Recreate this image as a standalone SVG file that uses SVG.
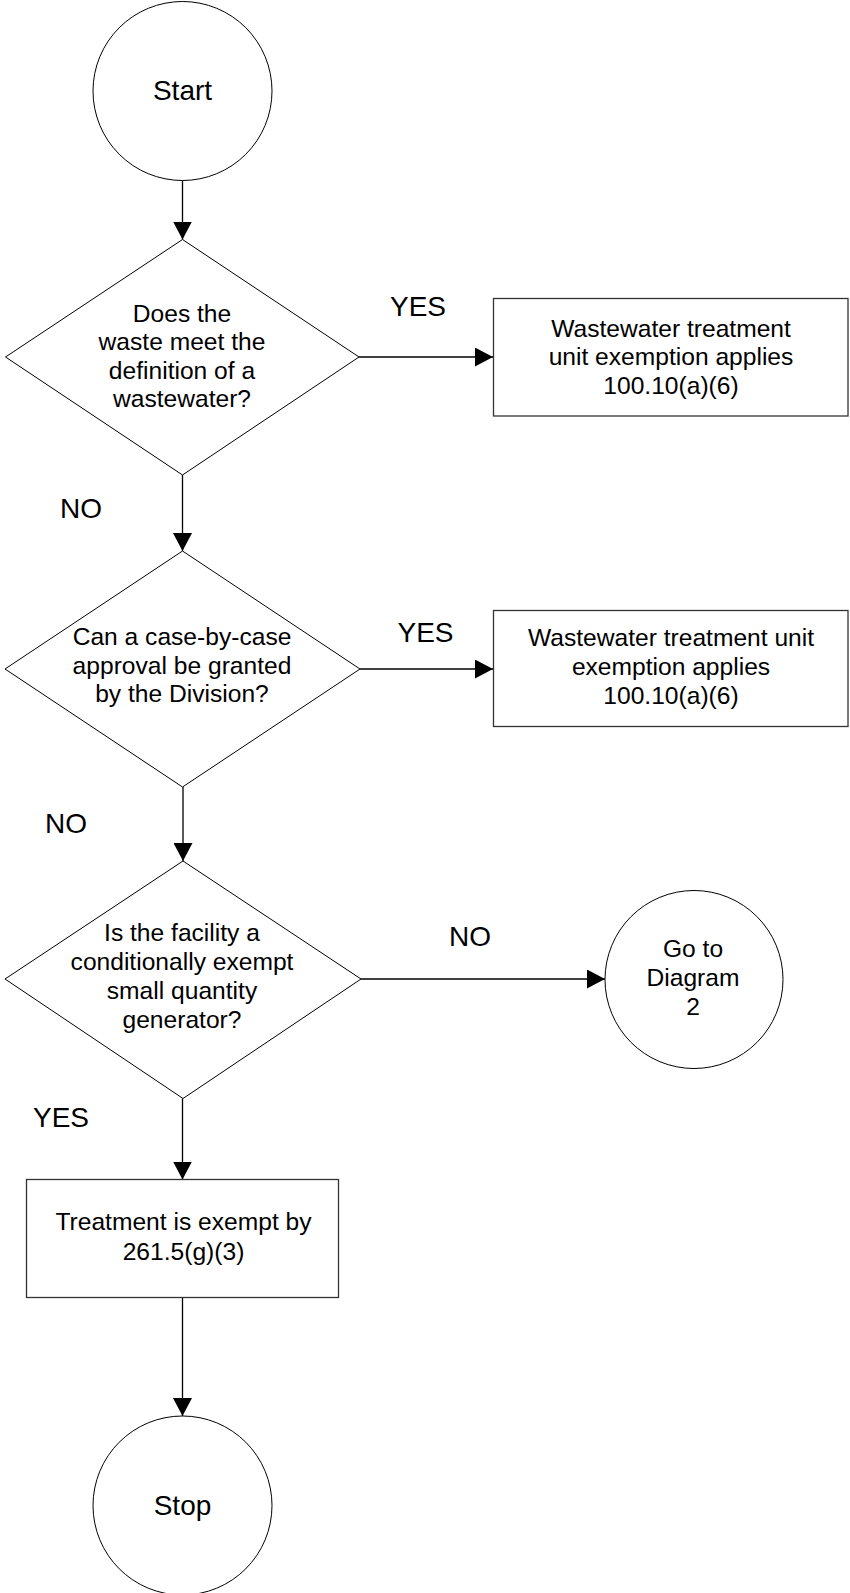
<svg xmlns="http://www.w3.org/2000/svg" width="850" height="1593" viewBox="0 0 850 1593">
<style>
.shape{fill:#fff;stroke:#000;stroke-width:1}
.box{fill:#fff;stroke:#333;stroke-width:1.3}
.conn{fill:none;stroke:#000;stroke-width:1.3}
text{font-family:"Liberation Sans",Arial,sans-serif;fill:#000;text-anchor:middle}
.t{font-size:24.6px}
.lbl{font-size:28px}
</style>
<defs>
<marker id="arr" markerUnits="userSpaceOnUse" markerWidth="18" markerHeight="19" refX="18" refY="9.5" orient="auto">
<path d="M0,0 L18,9.5 L0,19 Z" fill="#000"/>
</marker>
</defs>
<rect width="850" height="1593" fill="#fff"/>
<g id="connectors">
<line class="conn" x1="182.5" y1="180.5" x2="182.5" y2="239.5" marker-end="url(#arr)"/>
<line class="conn" x1="359" y1="357" x2="493" y2="357" marker-end="url(#arr)"/>
<line class="conn" x1="182.5" y1="475" x2="182.5" y2="551" marker-end="url(#arr)"/>
<line class="conn" x1="360" y1="669" x2="493" y2="669" marker-end="url(#arr)"/>
<line class="conn" x1="183" y1="787" x2="183" y2="861" marker-end="url(#arr)"/>
<line class="conn" x1="361" y1="979" x2="605" y2="979" marker-end="url(#arr)"/>
<line class="conn" x1="182.5" y1="1098.5" x2="182.5" y2="1179.5" marker-end="url(#arr)"/>
<line class="conn" x1="182.5" y1="1298" x2="182.5" y2="1416" marker-end="url(#arr)"/>
<text class="lbl" x="418" y="316">YES</text>
<text class="lbl" x="81" y="518">NO</text>
<text class="lbl" x="425.5" y="641.5">YES</text>
<text class="lbl" x="66" y="833">NO</text>
<text class="lbl" x="470" y="946">NO</text>
<text class="lbl" x="61" y="1127">YES</text>
</g>
<g id="start">
<circle class="shape" cx="182.5" cy="91" r="89.5"/>
<text class="lbl" x="182.5" y="100">Start</text>
</g>
<g id="decision1">
<polygon class="shape" points="182.5,239.5 359,357 182.5,475 5.5,357"/>
<text class="t" x="182" y="321.5">Does the</text>
<text class="t" x="182" y="350">waste meet the</text>
<text class="t" x="182" y="378.5">definition of a</text>
<text class="t" x="182" y="407">wastewater?</text>
</g>
<g id="exempt1">
<rect class="box" x="493.5" y="298.5" width="354.5" height="117.5"/>
<text class="t" x="671" y="336.5">Wastewater treatment</text>
<text class="t" x="671" y="365">unit exemption applies</text>
<text class="t" x="671" y="394">100.10(a)(6)</text>
</g>
<g id="decision2">
<polygon class="shape" points="182.5,551 360,669 182.5,787 5,669"/>
<text class="t" x="182" y="645">Can a case-by-case</text>
<text class="t" x="182" y="673.5">approval be granted</text>
<text class="t" x="182" y="702">by the Division?</text>
</g>
<g id="exempt2">
<rect class="box" x="493.5" y="610.5" width="354.5" height="116"/>
<text class="t" x="671" y="646">Wastewater treatment unit</text>
<text class="t" x="671" y="675">exemption applies</text>
<text class="t" x="671" y="703.5">100.10(a)(6)</text>
</g>
<g id="decision3">
<polygon class="shape" points="183,861 361,979 183,1098.5 5,979"/>
<text class="t" x="182" y="941">Is the facility a</text>
<text class="t" x="182" y="970">conditionally exempt</text>
<text class="t" x="182" y="999">small quantity</text>
<text class="t" x="182" y="1028">generator?</text>
</g>
<g id="goto2">
<circle class="shape" cx="694" cy="979.5" r="89"/>
<text class="t" x="693" y="956.5">Go to</text>
<text class="t" x="693" y="986">Diagram</text>
<text class="t" x="693" y="1015">2</text>
</g>
<g id="treatment">
<rect class="box" x="26.5" y="1179.5" width="312" height="118"/>
<text class="t" x="183.5" y="1230">Treatment is exempt by</text>
<text class="t" x="183.5" y="1260">261.5(g)(3)</text>
</g>
<g id="stop">
<circle class="shape" cx="182.5" cy="1505.5" r="89.5"/>
<text class="lbl" x="182.5" y="1515">Stop</text>
</g>
</svg>
